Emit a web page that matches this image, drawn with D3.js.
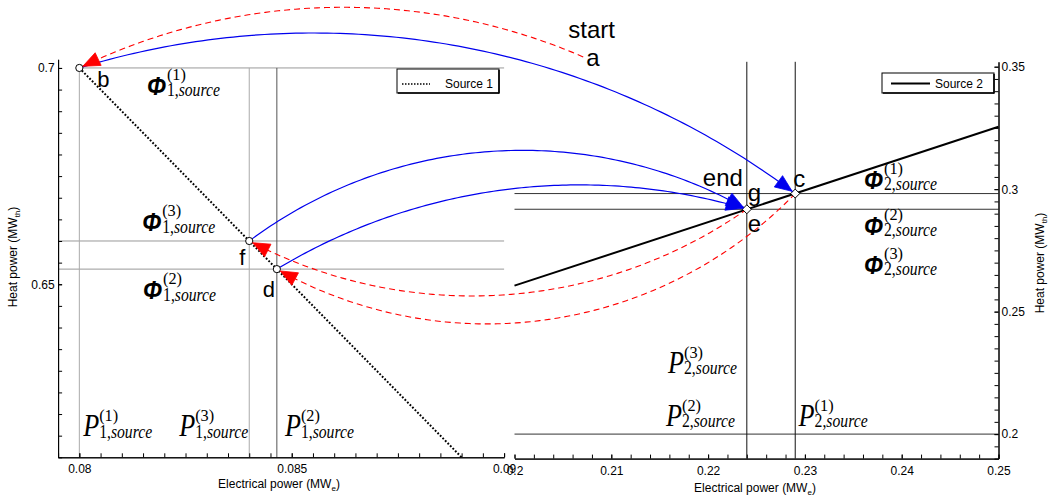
<!DOCTYPE html>
<html><head><meta charset="utf-8">
<script src="https://cdn.jsdelivr.net/npm/d3@7"></script>
<style>body{margin:0;background:#fff}</style>
</head><body>
<svg id="chart" width="1050" height="497"></svg>
<script>
// ---------------- data ----------------
const leftXTicks = [0.08, 0.085, 0.09];
const leftXLabels = ["0.08", "0.085", "0.09"];
const leftYTicks = [0.65, 0.7];
const leftYLabels = ["0.65", "0.7"];
const rightXTicks = [0.2, 0.21, 0.22, 0.23, 0.24, 0.25];
const rightXLabels = ["0.2", "0.21", "0.22", "0.23", "0.24", "0.25"];
const rightYTicks = [0.2, 0.25, 0.3, 0.35];
const rightYLabels = ["0.2", "0.25", "0.3", "0.35"];

const source1P = [0.080, 0.089];
const source1H = [0.700, 0.610];
const source2P = [0.200, 0.250];
const source2H = [0.2606, 0.3255];

const leftPointIds = ["b", "f", "d"];
const leftPointP = [0.080, 0.084, 0.08465];
const leftPointH = [0.700, 0.660, 0.6535];
const rightPointIds = ["c", "g"];
const rightPointP = [0.229, 0.224];
const rightPointH = [0.2982, 0.2918];
const startP = 0.2071, startH = 0.354;   // point "a" (right panel coordinates)

const leftHLineH = [0.700, 0.660, 0.6535];
const leftHLineP0 = [0.080, 0.0795, 0.0795];
const leftVLineP = [0.080, 0.084, 0.08465];
const rightHLineH = [0.200, 0.2918, 0.2982];
const rightVLineP = [0.224, 0.229];

const arrowFrom = ["a", "b", "f", "d", "g", "c"];
const arrowTo   = ["b", "c", "g", "g", "f", "d"];

// label anchors (data coords of their panel): [panel, p, h, symbol, sup, subIndex]
const mathLabels = [
  ["L", 0.08159, 0.69375, "Φ", "(1)", "1"],
  ["L", 0.08148, 0.66231, "Φ", "(3)", "1"],
  ["L", 0.08150, 0.64659, "Φ", "(2)", "1"],
  ["L", 0.08009, 0.61492, "P", "(1)", "1"],
  ["L", 0.08235, 0.61492, "P", "(3)", "1"],
  ["L", 0.08484, 0.61492, "P", "(2)", "1"],
  ["R", 0.21586, 0.22508, "P", "(3)", "2"],
  ["R", 0.21565, 0.20347, "P", "(2)", "2"],
  ["R", 0.22935, 0.20347, "P", "(1)", "2"],
  ["R", 0.23611, 0.30012, "Φ", "(1)", "2"],
  ["R", 0.23611, 0.28136, "Φ", "(2)", "2"],
  ["R", 0.23611, 0.26546, "Φ", "(3)", "2"]
];

// ---------------- styles ----------------
const arrowStyle = [
  {color: "#ff0000", dash: "6,4", bend: 55},
  {color: "#0000ee", dash: null, bend: 87},
  {color: "#0000ee", dash: null, bend: 74},
  {color: "#0000ee", dash: null, bend: 50},
  {color: "#ff0000", dash: "6,4", bend: -70},
  {color: "#ff0000", dash: "6,4", bend: -89}
];
const pointLabelStyle = {
  a: {dx: 3, dy: 9, size: 24}, b: {dx: 18, dy: 19, size: 22},
  f: {dx: -10, dy: 24, size: 22}, d: {dx: -14, dy: 28, size: 22},
  c: {dx: -2, dy: -6.5, size: 24}, g: {dx: 1, dy: -8, size: 24}
};
const leftVLineColor = ["#aaaaaa", "#aaaaaa", "#555555"];
const SANS = "'Liberation Sans', Arial, sans-serif";
const SERIF = "'Liberation Serif', 'Times New Roman', serif";

// ---------------- scales ----------------
const svg = d3.select("#chart");
const xL = d3.scaleLinear().domain([0.0795, 0.09]).range([58.1, 504.1]);
const yL = d3.scaleLinear().domain([0.61, 0.702]).range([457.3, 59.3]);
const xR = d3.scaleLinear().domain([0.2, 0.25]).range([514.5, 998.5]);
const yR = d3.scaleLinear().domain([0.19, 0.352]).range([458.6, 61.8]);

// ---------------- reference lines ----------------
const gl = svg.append("g");
leftHLineH.forEach((h, i) => gl.append("line")
  .attr("x1", xL(leftHLineP0[i])).attr("x2", xL(0.09))
  .attr("y1", yL(h)).attr("y2", yL(h))
  .attr("stroke", "#999").attr("stroke-width", 1));
leftVLineP.forEach((p, i) => gl.append("line")
  .attr("x1", xL(p)).attr("x2", xL(p))
  .attr("y1", yL(0.61)).attr("y2", yL(0.7))
  .attr("stroke", leftVLineColor[i]).attr("stroke-width", 1));
rightHLineH.forEach(h => gl.append("line")
  .attr("x1", xR(0.2)).attr("x2", xR(0.25))
  .attr("y1", yR(h)).attr("y2", yR(h))
  .attr("stroke", "#333").attr("stroke-width", 1));
rightVLineP.forEach(p => gl.append("line")
  .attr("x1", xR(p)).attr("x2", xR(p))
  .attr("y1", yR(0.19)).attr("y2", yR(0.352))
  .attr("stroke", "#111").attr("stroke-width", 1));

// ---------------- source lines ----------------
const lineL = d3.line().x(d => xL(d[0])).y(d => yL(d[1]));
const lineR = d3.line().x(d => xR(d[0])).y(d => yR(d[1]));
svg.append("path").attr("d", lineL(source1P.map((p, i) => [p, source1H[i]])))
  .attr("fill", "none").attr("stroke", "#000").attr("stroke-width", 2).attr("stroke-dasharray", "1.8,1.8");
svg.append("path").attr("d", lineR(source2P.map((p, i) => [p, source2H[i]])))
  .attr("fill", "none").attr("stroke", "#000").attr("stroke-width", 2);

// ---------------- axes ----------------
function styleAxis(g) {
  g.attr("font-family", SANS).attr("font-size", 12);
  g.selectAll("path.domain").attr("stroke", "#000");
  g.selectAll("line").attr("stroke", "#000");
  g.selectAll("text").attr("fill", "#000");
}
const minorLX = d3.range(0, 22).map(i => 0.0795 + i * 0.0005);
const minorLY = d3.range(0, 19).map(i => 0.61 + i * 0.005);
const minorRX = d3.range(0, 26).map(i => 0.2 + i * 0.002);
const minorRY = d3.range(0, 33).map(i => 0.19 + i * 0.005);

svg.append("g").attr("transform", `translate(0,${yL.range()[0]})`)
  .call(d3.axisBottom(xL).tickValues(minorLX).tickFormat("").tickSize(-4).tickSizeOuter(0)).call(styleAxis);
svg.append("g").attr("transform", `translate(0,${yL.range()[0]})`)
  .call(d3.axisBottom(xL).tickValues(leftXTicks).tickFormat((d, i) => leftXLabels[i]).tickSize(-4).tickSizeOuter(0).tickPadding(7.5)).call(styleAxis);
svg.append("g").attr("transform", `translate(${xL.range()[0]},0)`)
  .call(d3.axisLeft(yL).tickValues(minorLY).tickFormat("").tickSize(-4).tickSizeOuter(0)).call(styleAxis);
svg.append("g").attr("transform", `translate(${xL.range()[0]},0)`)
  .call(d3.axisLeft(yL).tickValues(leftYTicks).tickFormat((d, i) => leftYLabels[i]).tickSize(-4).tickSizeOuter(0).tickPadding(3.5)).call(styleAxis);

svg.append("g").attr("transform", `translate(0,${yR.range()[0]})`)
  .call(d3.axisBottom(xR).tickValues(minorRX).tickFormat("").tickSize(-4).tickSizeOuter(0)).call(styleAxis);
svg.append("g").attr("transform", `translate(0,${yR.range()[0]})`)
  .call(d3.axisBottom(xR).tickValues(rightXTicks).tickFormat((d, i) => rightXLabels[i]).tickSize(-4).tickSizeOuter(0).tickPadding(8)).call(styleAxis);
svg.append("g").attr("transform", `translate(${xR.range()[1]},0)`)
  .call(d3.axisRight(yR).tickValues(minorRY).tickFormat("").tickSize(-4).tickSizeOuter(0)).call(styleAxis);
svg.append("g").attr("transform", `translate(${xR.range()[1]},0)`)
  .call(d3.axisRight(yR).tickValues(rightYTicks).tickFormat((d, i) => rightYLabels[i]).tickSize(-4).tickSizeOuter(0).tickPadding(3)).call(styleAxis);

// axis titles
function title(x, y, rot, main, sub) {
  const t = svg.append("text").attr("font-family", SANS).attr("font-size", 12).attr("fill", "#000")
    .attr("text-anchor", "middle")
    .attr("transform", `translate(${x},${y}) rotate(${rot})`);
  t.append("tspan").text(main);
  t.append("tspan").attr("font-size", 8).attr("dy", 3).text(sub);
  t.append("tspan").attr("dy", -3).text(")");
}
title(279, 488, 0, "Electrical power (MW", "e");
title(755, 491.5, 0, "Electrical power (MW", "e");
title(17, 257, -90, "Heat power (MW", "th");
title(1044, 263, -90, "Heat power (MW", "th");

// ---------------- legends ----------------
function legend(x, y, w, h) {
  const g = svg.append("g");
  g.append("rect").attr("x", x).attr("y", y).attr("width", w).attr("height", h)
    .attr("fill", "#fff").attr("stroke", "#000").attr("stroke-width", 1);
  g.append("line").attr("x1", x + w).attr("x2", x + w).attr("y1", y + 1).attr("y2", y + h + 0.5).attr("stroke", "#000").attr("stroke-width", 1.6);
  g.append("line").attr("x1", x + 1).attr("x2", x + w).attr("y1", y + h).attr("y2", y + h).attr("stroke", "#000").attr("stroke-width", 1.6);
  return g;
}
const lg1 = legend(397, 69, 102, 24);
lg1.append("line").attr("x1", 402).attr("x2", 430).attr("y1", 84).attr("y2", 84)
  .attr("stroke", "#000").attr("stroke-width", 1.5).attr("stroke-dasharray", "1.5,1.5");
lg1.append("text").attr("x", 445).attr("y", 88).attr("font-family", SANS).attr("font-size", 12).text("Source 1");
const lg2 = legend(882, 73, 112, 20);
lg2.append("line").attr("x1", 891).attr("x2", 930).attr("y1", 83.5).attr("y2", 83.5)
  .attr("stroke", "#000").attr("stroke-width", 2);
lg2.append("text").attr("x", 935).attr("y", 88).attr("font-family", SANS).attr("font-size", 12).text("Source 2");

// ---------------- points ----------------
const pts = {};
leftPointIds.forEach((id, i) => pts[id] = [xL(leftPointP[i]), yL(leftPointH[i])]);
rightPointIds.forEach((id, i) => pts[id] = [xR(rightPointP[i]), yR(rightPointH[i])]);
pts.a = [xR(startP), yR(startH)];

// ---------------- curved arrows ----------------
function arcPoints(A, B, s) {
  const mx = (A[0] + B[0]) / 2, my = (A[1] + B[1]) / 2;
  const dx = B[0] - A[0], dy = B[1] - A[1], L = Math.hypot(dx, dy);
  let nx = dy / L, ny = -dx / L;
  if (ny > 0) { nx = -nx; ny = -ny; }
  if (s < 0) { nx = -nx; ny = -ny; s = -s; }
  const h = L / 2, r = (h * h + s * s) / (2 * s);
  const qx = mx + s * nx, qy = my + s * ny, cx = qx - r * nx, cy = qy - r * ny;
  const a0 = Math.atan2(A[1] - cy, A[0] - cx), aq = Math.atan2(qy - cy, qx - cx);
  let d = aq - a0;
  while (d > Math.PI) d -= 2 * Math.PI;
  while (d < -Math.PI) d += 2 * Math.PI;
  return d3.range(0, 121).map(i => { const t = a0 + 2 * d * i / 120; return [cx + r * Math.cos(t), cy + r * Math.sin(t)]; });
}
const heads = [];
const ga = svg.append("g");
arrowFrom.forEach((f, i) => {
  const st = arrowStyle[i];
  const P = arcPoints(pts[f], pts[arrowTo[i]], st.bend);
  ga.append("path").attr("d", d3.line()(P)).attr("fill", "none")
    .attr("stroke", st.color).attr("stroke-width", st.dash ? 1.1 : 1.2)
    .attr("stroke-dasharray", st.dash);
  const E = P[P.length - 1], Q = P[P.length - 4];
  const ux = (E[0] - Q[0]) / Math.hypot(E[0] - Q[0], E[1] - Q[1]);
  const uy = (E[1] - Q[1]) / Math.hypot(E[0] - Q[0], E[1] - Q[1]);
  const tip = [E[0] - 3.8 * ux, E[1] - 3.8 * uy];
  const len = 17, w = 14;
  const bx = tip[0] - len * ux, by = tip[1] - len * uy;
  heads.push({pts: [tip, [bx - uy * w / 2, by + ux * w / 2], [bx + uy * w / 2, by - ux * w / 2]], color: st.color});
});

// markers
leftPointIds.forEach(id => svg.append("circle").attr("cx", pts[id][0]).attr("cy", pts[id][1]).attr("r", 3.6)
  .attr("fill", "#fff").attr("stroke", "#000").attr("stroke-width", 1));
rightPointIds.forEach(id => svg.append("path")
  .attr("d", `M${pts[id][0]},${pts[id][1] - 4.5}l4.5,4.5l-4.5,4.5l-4.5,-4.5z`)
  .attr("fill", "#fff").attr("stroke", "#000").attr("stroke-width", 1));

// arrowheads
heads.forEach(hd => svg.append("path").attr("d", "M" + hd.pts.map(p => p.join(",")).join("L") + "Z")
  .attr("fill", hd.color).attr("stroke", hd.color).attr("stroke-width", 0.8));

// ---------------- point letters ----------------
function letter(txt, ref, dx, dy, size) {
  svg.append("text").attr("x", ref[0] + dx).attr("y", ref[1] + dy)
    .attr("font-family", SANS).attr("font-size", size).attr("fill", "#000").text(txt);
}
Object.keys(pointLabelStyle).forEach(id => {
  const s = pointLabelStyle[id];
  letter(id, pts[id], s.dx, s.dy, s.size);
});
letter("e", pts.g, 1, 23, 24);
letter("start", pts.a, -15, -19, 24);
letter("end", pts.g, -44, -23, 24);

// ---------------- math labels ----------------
mathLabels.forEach(([panel, p, h, sym, sup, idx]) => {
  const x = panel === "L" ? xL(p) : xR(p);
  const y = panel === "L" ? yL(h) : yR(h);
  const isPhi = sym === "Φ";
  const mw = isPhi ? 19 : 16;
  const m = svg.append("text").attr("x", x).attr("y", y).attr("fill", "#000")
    .attr("textLength", mw).attr("lengthAdjust", "spacingAndGlyphs").text(sym);
  if (isPhi) m.attr("font-family", SANS).attr("font-weight", "bold").attr("font-style", "italic").attr("font-size", 25);
  else m.attr("font-family", SERIF).attr("font-style", "italic").attr("font-size", 31);
  const off = isPhi ? 20 : 16;
  svg.append("text").attr("x", x + off).attr("y", y - 15).attr("font-family", SERIF).attr("font-size", 17)
    .attr("textLength", 19).attr("lengthAdjust", "spacingAndGlyphs").attr("fill", "#000").text(sup);
  const sb = svg.append("text").attr("x", x + off).attr("y", y + 1.5).attr("font-family", SERIF).attr("font-size", 18)
    .attr("textLength", 53).attr("lengthAdjust", "spacingAndGlyphs").attr("fill", "#000");
  sb.append("tspan").text(idx + ",");
  sb.append("tspan").attr("font-style", "italic").text("source");
});
</script>
</body></html>
